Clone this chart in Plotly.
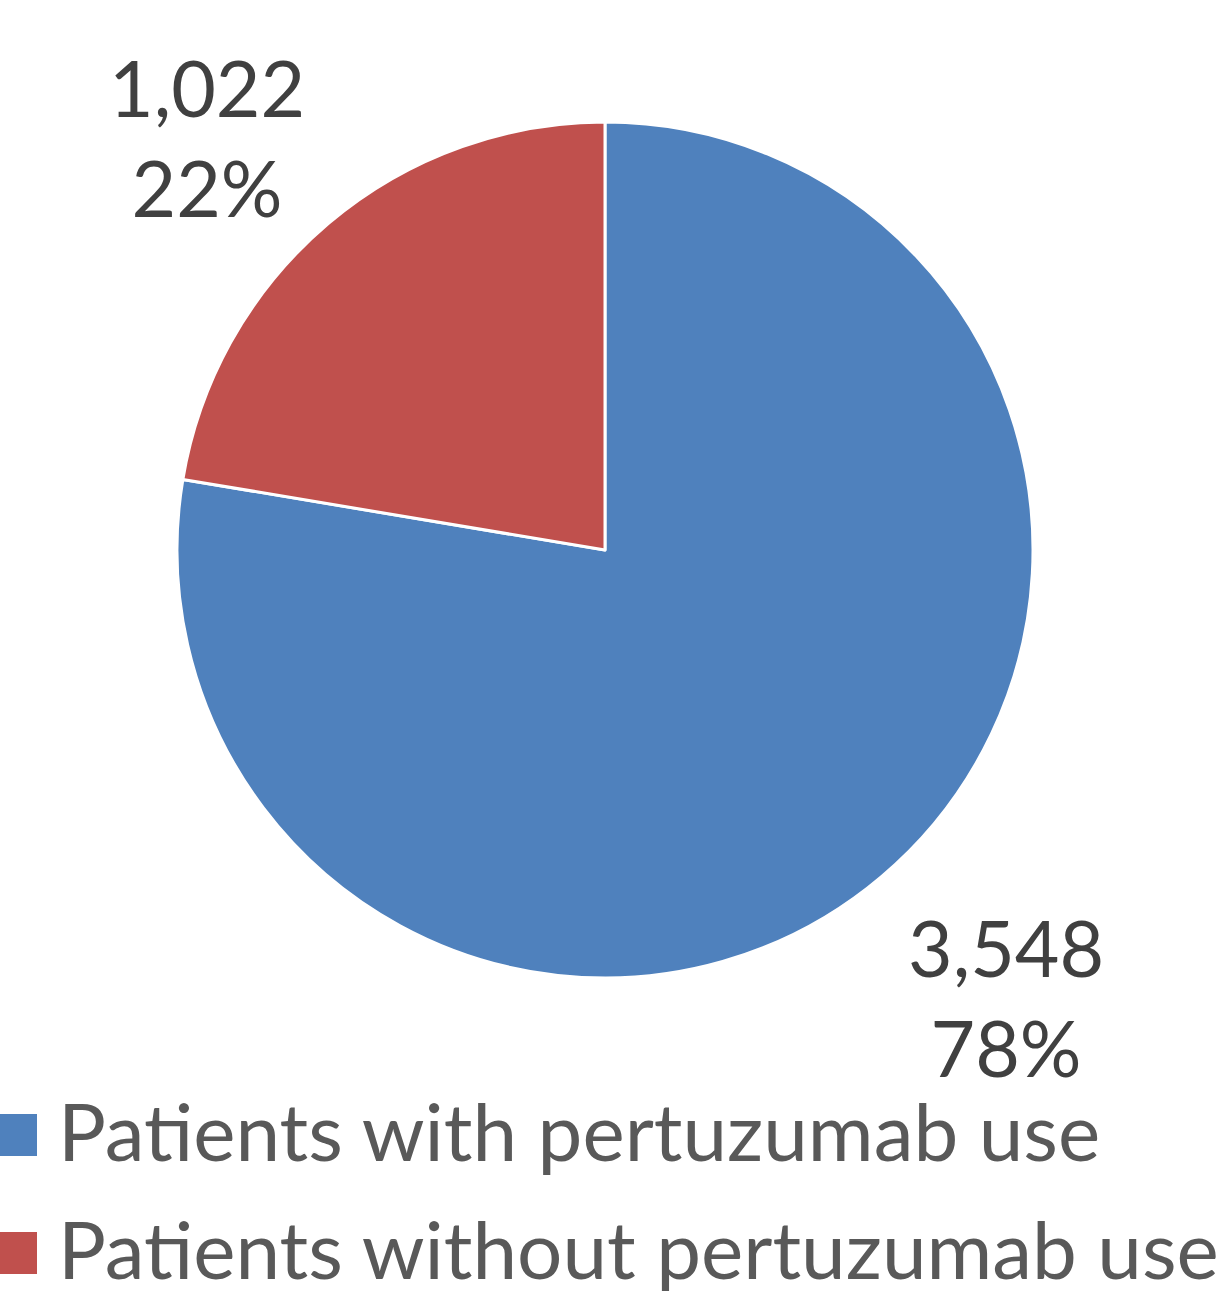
import math
import plotly.graph_objects as go

# ---- data ----
categories = ["Patients with pertuzumab use", "Patients without pertuzumab use"]
values = [3548, 1022]
colors = ["#4F81BD", "#C0504D"]

W, H = 1217, 1291
FONT = "Lato, 'Open Sans', sans-serif"
FS_LABEL = 77
FS_LEGEND = 80

# pie geometry (pixels)
cx, cy, R = 605, 550, 428
dom_x = [(cx - R) / W, (cx + R) / W]
dom_y = [1 - (cy + R) / H, 1 - (cy - R) / H]

# label placement tweaks (pixels, styling only)
LABEL_OFFSETS = [(24, 22), (-21, 12)]

fig = go.Figure()
fig.add_trace(go.Pie(
    labels=categories, values=values, sort=False, direction="clockwise", rotation=0,
    marker=dict(colors=colors, line=dict(color="white", width=3)),
    textinfo="none", hoverinfo="label+value+percent", showlegend=False,
    domain=dict(x=dom_x, y=dom_y),
))

# data labels placed from slice mid-angles
total = sum(values)
cum = 0
annotations = []
for v, (ox, oy) in zip(values, LABEL_OFFSETS):
    mid = (cum + v / 2) / total * 2 * math.pi  # clockwise from 12 o'clock
    cum += v
    px = cx + R * math.sin(mid) + ox
    py = cy - R * math.cos(mid) + oy
    pct = round(100 * v / total)
    annotations.append(dict(
        x=px / W, y=1 - py / H, xref="paper", yref="paper",
        text=f"{v:,}<br>{pct}%", showarrow=False,
        xanchor="left" if math.sin(mid) > 0 else "right",
        yanchor="top" if math.cos(mid) < 0 else "bottom",
        align="center", font=dict(family=FONT, size=FS_LABEL, color="#404040"),
    ))

# legend (manual, large swatches)
shapes = []
for i, (lab, col) in enumerate(zip(categories, colors)):
    ys = 1135 + i * 118
    yt = 1130 + i * 118
    shapes.append(dict(type="rect", xref="paper", yref="paper",
                       x0=-6 / W, x1=37 / W, y0=1 - (ys - 21) / H, y1=1 - (ys + 21) / H,
                       fillcolor=col, line=dict(width=0)))
    annotations.append(dict(
        x=56 / W, y=1 - yt / H, xref="paper", yref="paper", text=lab,
        showarrow=False, xanchor="left", yanchor="middle",
        font=dict(family=FONT, size=FS_LEGEND, color="#595959"),
    ))

fig.update_layout(
    width=W, height=H, margin=dict(l=0, r=0, t=0, b=0),
    paper_bgcolor="white", plot_bgcolor="white",
    annotations=annotations, shapes=shapes,
)
fig.write_html("out.html", config={"displayModeBar": False},
               post_script="document.body.style.margin='0';")
